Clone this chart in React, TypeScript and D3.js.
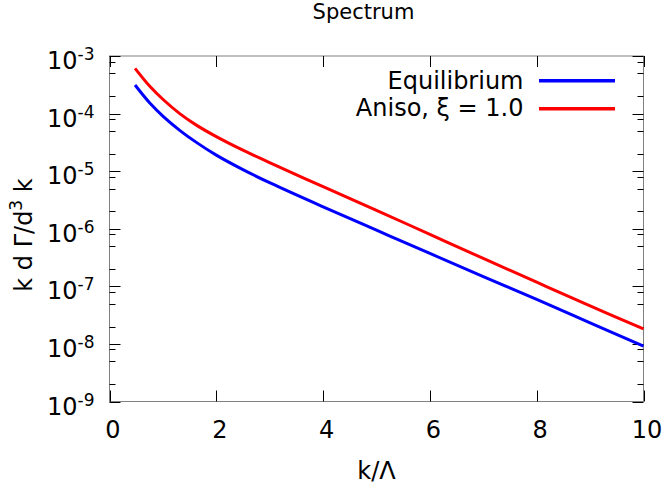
import React from "react";
import * as d3 from "d3";

const kValues = [0.478, 0.759, 1.009, 1.321, 1.634, 2.0, 2.508, 3.008, 4, 5, 6, 7, 8, 9, 10];
const equilibrium = [3.13e-4, 1.507e-4, 8.87e-5, 5.07e-5, 3.13e-5, 1.897e-5, 1.052e-5, 6.24e-6, 2.4e-6, 9.44e-7, 3.72e-7, 1.48e-7, 5.92e-8, 2.33e-8, 9.16e-9];
const aniso = [6.11e-4, 2.95e-4, 1.738e-4, 9.89e-5, 6.24e-5, 3.98e-5, 2.29e-5, 1.396e-5, 5.37e-6, 2.09e-6, 7.98e-7, 3.05e-7, 1.18e-7, 4.59e-8, 1.82e-8];
const seriesNames = ["Equilibrium", "Aniso, \u03be = 1.0"];
const seriesColors = ["#0000ff", "#ff0000"];
const xTicks = [0, 2, 4, 6, 8, 10];
const yExponents = [-9, -8, -7, -6, -5, -4, -3];
const minorMultipliers = [2, 5, 8];

const W = 664;
const H = 486;
const L = 109.5, R = 643.5, T = 56, B = 401.5;
const FONT = "DejaVu Sans, sans-serif";

export default function App() {
  const x = d3.scaleLinear().domain([0, 10]).range([L, R]);
  const y = d3.scaleLog().domain([1e-9, 1e-3]).range([B, T]);
  const line = d3
    .line<number>()
    .x((_, i) => x(kValues[i]))
    .y((v) => y(v))
    .curve(d3.curveCatmullRom.alpha(0.5));
  const series = [equilibrium, aniso];

  const minorTicks: number[] = [];
  yExponents.slice(0, -1).forEach((e) => {
    minorMultipliers.forEach((m) => minorTicks.push(m * Math.pow(10, e)));
  });

  return (
    <svg width={W} height={H} style={{ position: "absolute", left: 0, top: 0, background: "#fff" }} fontFamily={FONT}>
      <rect x={0} y={0} width={W} height={H} fill="#fff" />
      {/* border */}
      <rect x={L} y={T} width={R - L} height={B - T} fill="none" stroke="#808080" strokeWidth={1} />
      {/* x ticks */}
      {xTicks.map((t) => (
        <g key={"xt" + t}>
          <line x1={Math.round(x(t)) + 0.5} x2={Math.round(x(t)) + 0.5} y1={B} y2={B - 11} stroke="#000" />
          <line x1={Math.round(x(t)) + 0.5} x2={Math.round(x(t)) + 0.5} y1={T} y2={T + 11} stroke="#000" />
          <text x={x(t) + 3.5} y={437.5} fontSize={24} textAnchor="middle" fill="#000">
            {t}
          </text>
        </g>
      ))}
      {/* y major ticks */}
      {yExponents.map((e) => {
        const yy = Math.round(y(Math.pow(10, e))) + 0.5;
        return (
          <g key={"ye" + e}>
            <line x1={L} x2={L + 11} y1={yy} y2={yy} stroke="#000" />
            <line x1={R} x2={R - 11} y1={yy} y2={yy} stroke="#000" />
            <text x={94.5} y={y(Math.pow(10, e)) + 13} fontSize={24} textAnchor="end" fill="#000">
              <tspan>10</tspan>
              <tspan dy={-9} fontSize={17}>{"-" + Math.abs(e)}</tspan>
            </text>
          </g>
        );
      })}
      {/* y minor ticks */}
      {minorTicks.map((v, i) => {
        const yy = Math.round(y(v)) + 0.5;
        return (
          <g key={"ym" + i}>
            <line x1={L} x2={L + 6} y1={yy} y2={yy} stroke="#000" />
            <line x1={R} x2={R - 6} y1={yy} y2={yy} stroke="#000" />
          </g>
        );
      })}
      {/* curves */}
      {series.map((s, i) => (
        <path key={"s" + i} d={line(s) || ""} fill="none" stroke={seriesColors[i]} strokeWidth={3} />
      ))}
      {/* legend */}
      {seriesNames.map((n, i) => (
        <g key={"lg" + i}>
          <text x={523.5} y={89.3 + i * 27} fontSize={24} textAnchor="end" fill="#000">
            {n}
          </text>
          <line x1={539} x2={615} y1={80.7 + i * 28} y2={80.7 + i * 28} stroke={seriesColors[i]} strokeWidth={3.5} />
        </g>
      ))}
      {/* title */}
      <text x={(L + R) / 2 - 13} y={19} fontSize={21} textAnchor="middle" fill="#000">
        Spectrum
      </text>
      {/* axis labels */}
      <text x={(L + R) / 2} y={479.3} fontSize={24} textAnchor="middle" fill="#000">
        k/Λ
      </text>
      <text transform={`translate(32,235) rotate(-90)`} fontSize={24} textAnchor="middle" fill="#000">
        <tspan>k d Γ/d</tspan>
        <tspan dy={-10} fontSize={17}>3</tspan>
        <tspan dy={10}> k</tspan>
      </text>
    </svg>
  );
}
